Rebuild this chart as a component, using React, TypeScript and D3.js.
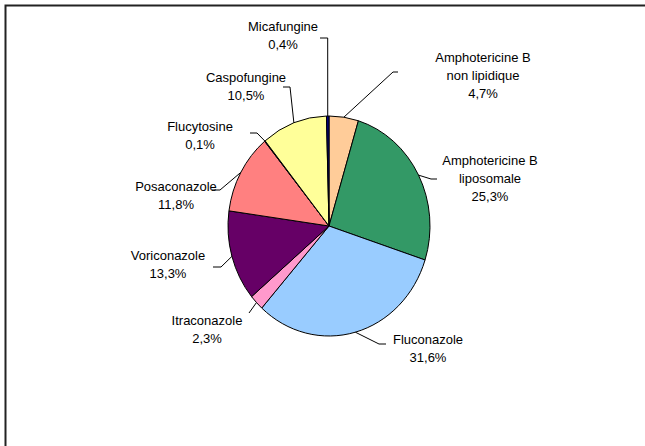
import React from "react";
import * as d3 from "d3";

const categories = [
  "Amphotericine B non lipidique",
  "Amphotericine B liposomale",
  "Fluconazole",
  "Itraconazole",
  "Voriconazole",
  "Posaconazole",
  "Flucytosine",
  "Caspofungine",
  "Micafungine",
];
const labelLines = [
  ["Amphotericine B", "non lipidique"],
  ["Amphotericine B", "liposomale"],
  ["Fluconazole"],
  ["Itraconazole"],
  ["Voriconazole"],
  ["Posaconazole"],
  ["Flucytosine"],
  ["Caspofungine"],
  ["Micafungine"],
];
const values = [4.7, 25.3, 31.6, 2.3, 13.3, 11.8, 0.1, 10.5, 0.4];
const colors = ["#FFCC99", "#339966", "#99CCFF", "#FF99CC", "#660066", "#FF8080", "#000080", "#FFFF99", "#000080"];

// label layout: text centre x, first baseline y, leader end point and elbow
const labelPos = [
  { x: 483, y: 62, end: [398, 72], elbow: [393, 72] },
  { x: 490, y: 165, end: [437, 179], elbow: [431, 179] },
  { x: 428, y: 344, end: [386, 344], elbow: [379, 344] },
  { x: 207, y: 325, end: [249, 313], elbow: [249, 313] },
  { x: 168, y: 260, end: [213, 267], elbow: [221, 267] },
  { x: 176, y: 191, end: [212, 190], elbow: [220, 190] },
  { x: 200, y: 131, end: [250, 133], elbow: [257, 133] },
  { x: 246, y: 82, end: [283, 87], elbow: [290, 87] },
  { x: 283, y: 31, end: [320, 38], elbow: [327.7, 38] },
];

const cx = 329;
const cy = 226;
const rx = 101;
const ry = 110;
const lineH = 18;

export default function App() {
  const pie = d3.pie<number>().sort(null).value((d) => d);
  const arcs = pie(values);
  const arcGen = d3.arc<d3.PieArcDatum<number>>().innerRadius(0).outerRadius(rx);
  const fmt = (v: number) => v.toFixed(1).replace(".", ",") + "%";

  return (
    <svg
      width={645}
      height={446}
      style={{ position: "absolute", left: 0, top: 0, display: "block", background: "#fff" }}
      fontFamily="'Liberation Sans', Arial, sans-serif"
    >
      <rect x={0} y={0} width={645} height={446} fill="#fff" />
      <path d="M5.5,460 L5.5,5.5 L660,5.5" fill="none" stroke="#222" strokeWidth={2} />
      <g transform={`translate(${cx},${cy}) scale(1,${ry / rx})`}>
        {arcs.map((a, i) => (
          <path
            key={i}
            d={arcGen(a) as string}
            fill={colors[i]}
            stroke="#000"
            strokeWidth={1}
            vectorEffect="non-scaling-stroke"
          />
        ))}
      </g>
      {arcs.map((a, i) => {
        const mid = (a.startAngle + a.endAngle) / 2;
        const px = cx + rx * Math.sin(mid);
        const py = cy - ry * Math.cos(mid);
        const lp = labelPos[i];
        const pts = [lp.end, lp.elbow, [px, py]];
        return (
          <polyline
            key={"l" + i}
            points={pts.map((p) => p.join(",")).join(" ")}
            fill="none"
            stroke="#000"
            strokeWidth={1}
          />
        );
      })}
      {arcs.map((a, i) => {
        const lp = labelPos[i];
        const lines = [...labelLines[i], fmt(values[i])];
        return (
          <text key={"t" + i} x={lp.x} y={lp.y} fontSize={13} textAnchor="middle" fill="#000">
            {lines.map((s, j) => (
              <tspan key={j} x={lp.x} dy={j === 0 ? 0 : lineH}>
                {s}
              </tspan>
            ))}
          </text>
        );
      })}
    </svg>
  );
}
